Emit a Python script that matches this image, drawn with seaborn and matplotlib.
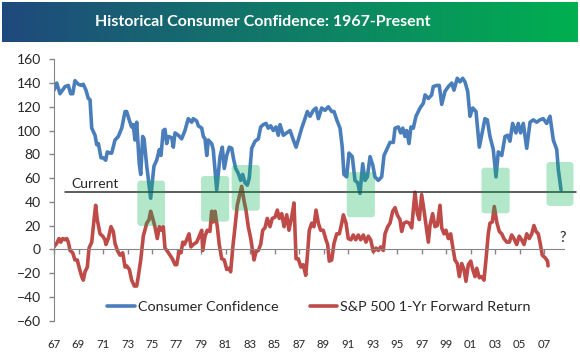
import numpy as np
import pandas as pd
import matplotlib
matplotlib.use("Agg")
import matplotlib.pyplot as plt
import seaborn as sns
from matplotlib.patches import FancyBboxPatch
from matplotlib.colors import LinearSegmentedColormap

# Consumer Confidence (fractional years)
cc_years = [1967.00, 1967.22, 1967.49, 1967.90, 1968.17, 1968.36, 1968.53, 1968.71, 1968.98, 1969.26,
            1969.39, 1969.61, 1969.80, 1969.94, 1970.08, 1970.35, 1970.49, 1970.62, 1970.84, 1971.02,
            1971.22, 1971.35, 1971.57, 1971.71, 1971.98, 1972.25, 1972.53, 1972.80, 1972.93, 1973.20,
            1973.34, 1973.47, 1973.61, 1973.75, 1973.96, 1974.08, 1974.24, 1974.35, 1974.57, 1974.89,
            1975.16, 1975.38, 1975.60, 1975.73, 1975.92, 1976.06, 1976.20, 1976.33, 1976.61, 1976.74,
            1976.88, 1977.15, 1977.42, 1977.69, 1977.96, 1978.24, 1978.37, 1978.65, 1978.78, 1979.06,
            1979.19, 1979.33, 1979.47, 1979.60, 1979.87, 1980.00, 1980.28, 1980.55, 1980.74, 1980.90,
            1981.10, 1981.31, 1981.51, 1981.64, 1981.83, 1982.04, 1982.24, 1982.40, 1982.59, 1982.78,
            1982.94, 1983.14, 1983.41, 1983.68, 1983.87, 1984.09, 1984.31, 1984.49, 1984.69, 1984.90,
            1985.12, 1985.31, 1985.45, 1985.72, 1986.00, 1986.27, 1986.54, 1986.76, 1986.94, 1987.22,
            1987.49, 1987.68, 1987.90, 1988.17, 1988.39, 1988.58, 1988.85, 1989.12, 1989.39, 1989.67,
            1989.86, 1990.08, 1990.35, 1990.53, 1990.67, 1990.89, 1991.08, 1991.35, 1991.57, 1991.79,
            1991.98, 1992.20, 1992.39, 1992.58, 1992.80, 1993.02, 1993.20, 1993.47, 1993.75, 1993.94,
            1994.16, 1994.43, 1994.70, 1994.84, 1995.11, 1995.30, 1995.47, 1995.65, 1995.79, 1995.98,
            1996.14, 1996.33, 1996.55, 1996.88, 1997.15, 1997.29, 1997.56, 1997.83, 1997.96, 1998.24,
            1998.45, 1998.65, 1998.92, 1999.19, 1999.47, 1999.65, 1999.92, 2000.14, 2000.36, 2000.55,
            2000.77, 2000.96, 2001.18, 2001.45, 2001.72, 2001.91, 2002.18, 2002.37, 2002.59, 2002.86,
            2003.08, 2003.27, 2003.55, 2003.82, 2004.04, 2004.22, 2004.44, 2004.71, 2004.90, 2005.09,
            2005.31, 2005.59, 2005.86, 2006.13, 2006.40, 2006.67, 2006.94, 2007.22, 2007.49, 2007.76,
            2008.04, 2008.17, 2008.31, 2008.39]
cc_values = [134, 140, 131, 137, 138, 131, 131, 142, 139, 138,
             139, 134, 127, 126, 102, 96, 88, 89, 77, 77,
             75, 82, 81, 81, 92, 95, 102, 116, 116, 107,
             103, 105, 92, 107, 72, 63, 95, 93, 70, 43,
             70, 75, 84, 79, 100, 101, 89, 95, 94, 86,
             98, 96, 93, 100, 110, 107, 110, 108, 104, 102,
             95, 93, 79, 92, 89, 84, 50, 78, 86, 68,
             79, 86, 85, 77, 68, 64, 58, 63, 56, 54,
             60, 85, 91, 93, 103, 105, 106, 102, 104, 100,
             103, 96, 105, 96, 98, 100, 92, 86, 92, 102,
             110, 116, 112, 117, 119, 110, 119, 117, 120, 116,
             116, 109, 102, 86, 63, 61, 81, 78, 58, 56,
             47, 72, 58, 61, 78, 71, 61, 58, 61, 79,
             84, 90, 90, 102, 103, 98, 102, 95, 100, 89,
             103, 102, 112, 119, 123, 130, 127, 130, 137, 138,
             138, 122, 133, 137, 140, 134, 144, 141, 144, 141,
             133, 112, 119, 116, 86, 96, 110, 109, 95, 84,
             61, 82, 79, 95, 96, 91, 106, 98, 106, 98,
             106, 85, 107, 109, 107, 109, 110, 106, 112, 92,
             84, 67, 56, 50]

# S&P 500 1-year forward return (%)
sp_years = [1967.00, 1967.22, 1967.41, 1967.55, 1967.71, 1967.90, 1968.04, 1968.17, 1968.31, 1968.53,
            1968.71, 1968.90, 1969.07, 1969.26, 1969.39, 1969.53, 1969.72, 1969.86, 1970.08, 1970.27,
            1970.40, 1970.53, 1970.76, 1970.98, 1971.16, 1971.24, 1971.43, 1971.65, 1971.84, 1971.98,
            1972.17, 1972.39, 1972.61, 1972.80, 1972.93, 1973.15, 1973.34, 1973.56, 1973.75, 1973.88,
            1974.08, 1974.29, 1974.57, 1974.76, 1974.89, 1975.06, 1975.24, 1975.43, 1975.60, 1975.79,
            1975.92, 1976.06, 1976.28, 1976.47, 1976.66, 1976.88, 1977.02, 1977.20, 1977.37, 1977.51,
            1977.64, 1977.83, 1978.02, 1978.18, 1978.37, 1978.65, 1978.86, 1979.06, 1979.14, 1979.33,
            1979.51, 1979.73, 1979.87, 1980.00, 1980.14, 1980.33, 1980.49, 1980.69, 1980.90, 1981.10,
            1981.31, 1981.42, 1981.59, 1981.78, 1981.96, 1982.18, 1982.32, 1982.51, 1982.67, 1982.86,
            1983.06, 1983.22, 1983.33, 1983.49, 1983.68, 1983.87, 1984.04, 1984.22, 1984.41, 1984.63,
            1984.82, 1985.04, 1985.23, 1985.39, 1985.59, 1985.78, 1986.00, 1986.18, 1986.40, 1986.59,
            1986.76, 1986.94, 1987.16, 1987.35, 1987.55, 1987.68, 1987.84, 1988.04, 1988.22, 1988.39,
            1988.58, 1988.77, 1988.98, 1989.20, 1989.34, 1989.47, 1989.67, 1989.86, 1990.08, 1990.29,
            1990.49, 1990.62, 1990.84, 1991.02, 1991.24, 1991.43, 1991.63, 1991.84, 1992.04, 1992.25,
            1992.47, 1992.66, 1992.85, 1993.07, 1993.29, 1993.47, 1993.67, 1993.88, 1994.02, 1994.24,
            1994.43, 1994.65, 1994.84, 1995.02, 1995.24, 1995.38, 1995.57, 1995.79, 1996.00, 1996.20,
            1996.33, 1996.47, 1996.66, 1996.82, 1997.01, 1997.20, 1997.37, 1997.56, 1997.69, 1997.91,
            1998.10, 1998.29, 1998.51, 1998.65, 1998.84, 1999.00, 1999.19, 1999.38, 1999.55, 1999.73,
            1999.92, 2000.09, 2000.28, 2000.47, 2000.63, 2000.82, 2001.02, 2001.18, 2001.37, 2001.51,
            2001.72, 2001.91, 2002.10, 2002.27, 2002.45, 2002.59, 2002.78, 2002.94, 2003.14, 2003.35,
            2003.55, 2003.73, 2003.96, 2004.17, 2004.36, 2004.55, 2004.77, 2004.98, 2005.17, 2005.37,
            2005.59, 2005.80, 2006.00, 2006.18, 2006.35, 2006.53, 2006.67, 2006.86, 2007.08, 2007.29,
            2007.33]
sp_values = [2, 5, 9, 6, 9, 8, 9, 6, -1, -3,
             -9, -9, -16, -23, -26, -19, -15, 1, 6, 25,
             37, 25, 13, 11, 8, 4, 9, 19, 15, 5,
             -1, -5, -3, -15, -14, -17, -26, -31, -31, -23,
             -9, 11, 22, 25, 32, 26, 19, 9, 19, 16,
             19, 1, -2, -5, -8, -13, -13, -2, -3, 6,
             4, 8, 13, 2, 4, 6, 11, 16, -1, 11,
             16, 15, 32, 23, 32, 19, 4, -8, -9, -17,
             -16, -19, 1, 19, 37, 47, 53, 41, 33, 19,
             9, -2, -9, -2, -1, 4, 16, 18, 26, 19,
             26, 27, 33, 26, 30, 19, 29, 16, 27, 39,
             -8, -8, -15, -13, -22, -6, 16, 22, 19, 33,
             22, 16, 16, 8, 4, -10, -9, 5, 13, 13,
             22, 29, 22, 9, 8, 12, 8, 12, 8, 12,
             6, 11, 8, -2, 1, -1, 2, -1, 13, 19,
             22, 32, 35, 29, 25, 15, 22, 23, 22, 18,
             33, 48, 30, 25, 46, 33, 20, 6, 20, 30,
             19, 20, 37, 18, 13, 16, 9, 13, 2, -9,
             -12, -23, -12, -17, -27, -13, -10, -17, -23, -16,
             -24, -23, -26, -8, 13, 22, 23, 36, 23, 15,
             13, 9, 6, 6, 12, 9, 4, 11, 8, 4,
             13, 9, 13, 20, 15, 13, 6, -5, -7, -10,
             -14]

tick_years = list(range(1967, 2008, 2))
tick_labels = [f"{y % 100:02d}" for y in tick_years]
y_ticks = list(range(-60, 161, 20))

current_level = 48.5
current_span = (1967.9, 2009.6)
# (start, end, low, high) of the shaded lows
highlight_spans = [(1973.8, 1976.06, 19.6, 57.8),
                   (1979.0, 1981.3, 23.3, 61.7),
                   (1981.5, 1983.8, 32.5, 71.0),
                   (1990.9, 1993.2, 27.0, 65.0),
                   (2001.9, 2004.2, 30.3, 68.7),
                   (2007.2, 2009.4, 36.5, 73.5)]

cc = pd.DataFrame({"year": cc_years, "value": cc_values})
sp = pd.DataFrame({"year": sp_years, "value": sp_values})

sns.set_style("white")
plt.rcParams["font.family"] = ["Lato", "DejaVu Sans"]

W, H = 580, 352
fig = plt.figure(figsize=(W / 100, H / 100), dpi=100)

# title banner with gradient
bax = fig.add_axes([2 / W, 1 - 42 / H, 576 / W, 40 / H])
cmap = LinearSegmentedColormap.from_list("banner", ["#1F497D", "#00B050"])
bax.imshow(np.linspace(0, 1, 256)[None, :], cmap=cmap, aspect="auto", extent=(0, 1, 0, 1))
bax.set_axis_off()
bax.text(0.452, 0.5, "Historical Consumer Confidence: 1967-Present", color="white",
         fontsize=11.5, fontweight="bold", ha="center", va="center", transform=bax.transAxes)

ax = fig.add_axes([54 / W, (H - 320.5) / H, (563.6 - 54) / W, (320.5 - 59.3) / H])
sns.lineplot(data=cc, x="year", y="value", ax=ax, color="#4A7EBB", linewidth=2.6,
             label="Consumer Confidence", estimator=None)
sns.lineplot(data=sp, x="year", y="value", ax=ax, color="#BE4B48", linewidth=2.6,
             label="S&P 500 1-Yr Forward Return", estimator=None)

ax.set_xlim(1967, 2008.6)
ax.set_ylim(-60, 160)
ax.set_yticks(y_ticks)
ax.set_xticks(tick_years)
ax.set_xticklabels(tick_labels)
ax.set_xlabel("")
ax.set_ylabel("")

for s in ["top", "right"]:
    ax.spines[s].set_visible(False)
ax.spines["left"].set_color("#868686")
ax.spines["bottom"].set_color("#868686")
ax.spines["bottom"].set_position(("data", 0))
ax.tick_params(axis="y", direction="out", length=3.6, width=1, color="#868686",
               labelsize=10, pad=6, left=True)
ax.tick_params(axis="x", direction="out", length=3.4, width=1, color="#868686",
               labelsize=8.2, pad=61, bottom=True)

# current level line and labels
ax.plot(current_span, [current_level, current_level], color="#303030", lw=1.1,
        clip_on=False, zorder=4)
ax.text(1968.45, current_level + 1.5, "Current", fontsize=10, ha="left", va="bottom")
ax.text(2008.5, 9.5, "?", fontsize=10.5, ha="center", va="center")

for x0, x1, lo, hi in highlight_spans:
    box = FancyBboxPatch((x0, lo), x1 - x0, hi - lo,
                         boxstyle="round,pad=0,rounding_size=0.28",
                         mutation_aspect=10.3, facecolor="#00B050", alpha=0.3,
                         edgecolor="none", zorder=5, clip_on=False)
    ax.add_patch(box)

ax.legend(loc="center", bbox_to_anchor=(0.52, 0.052), ncol=2, frameon=False,
          fontsize=10.4, handlelength=1.9, handletextpad=0.2, columnspacing=2.2)

fig.savefig("out.png", dpi=100)
